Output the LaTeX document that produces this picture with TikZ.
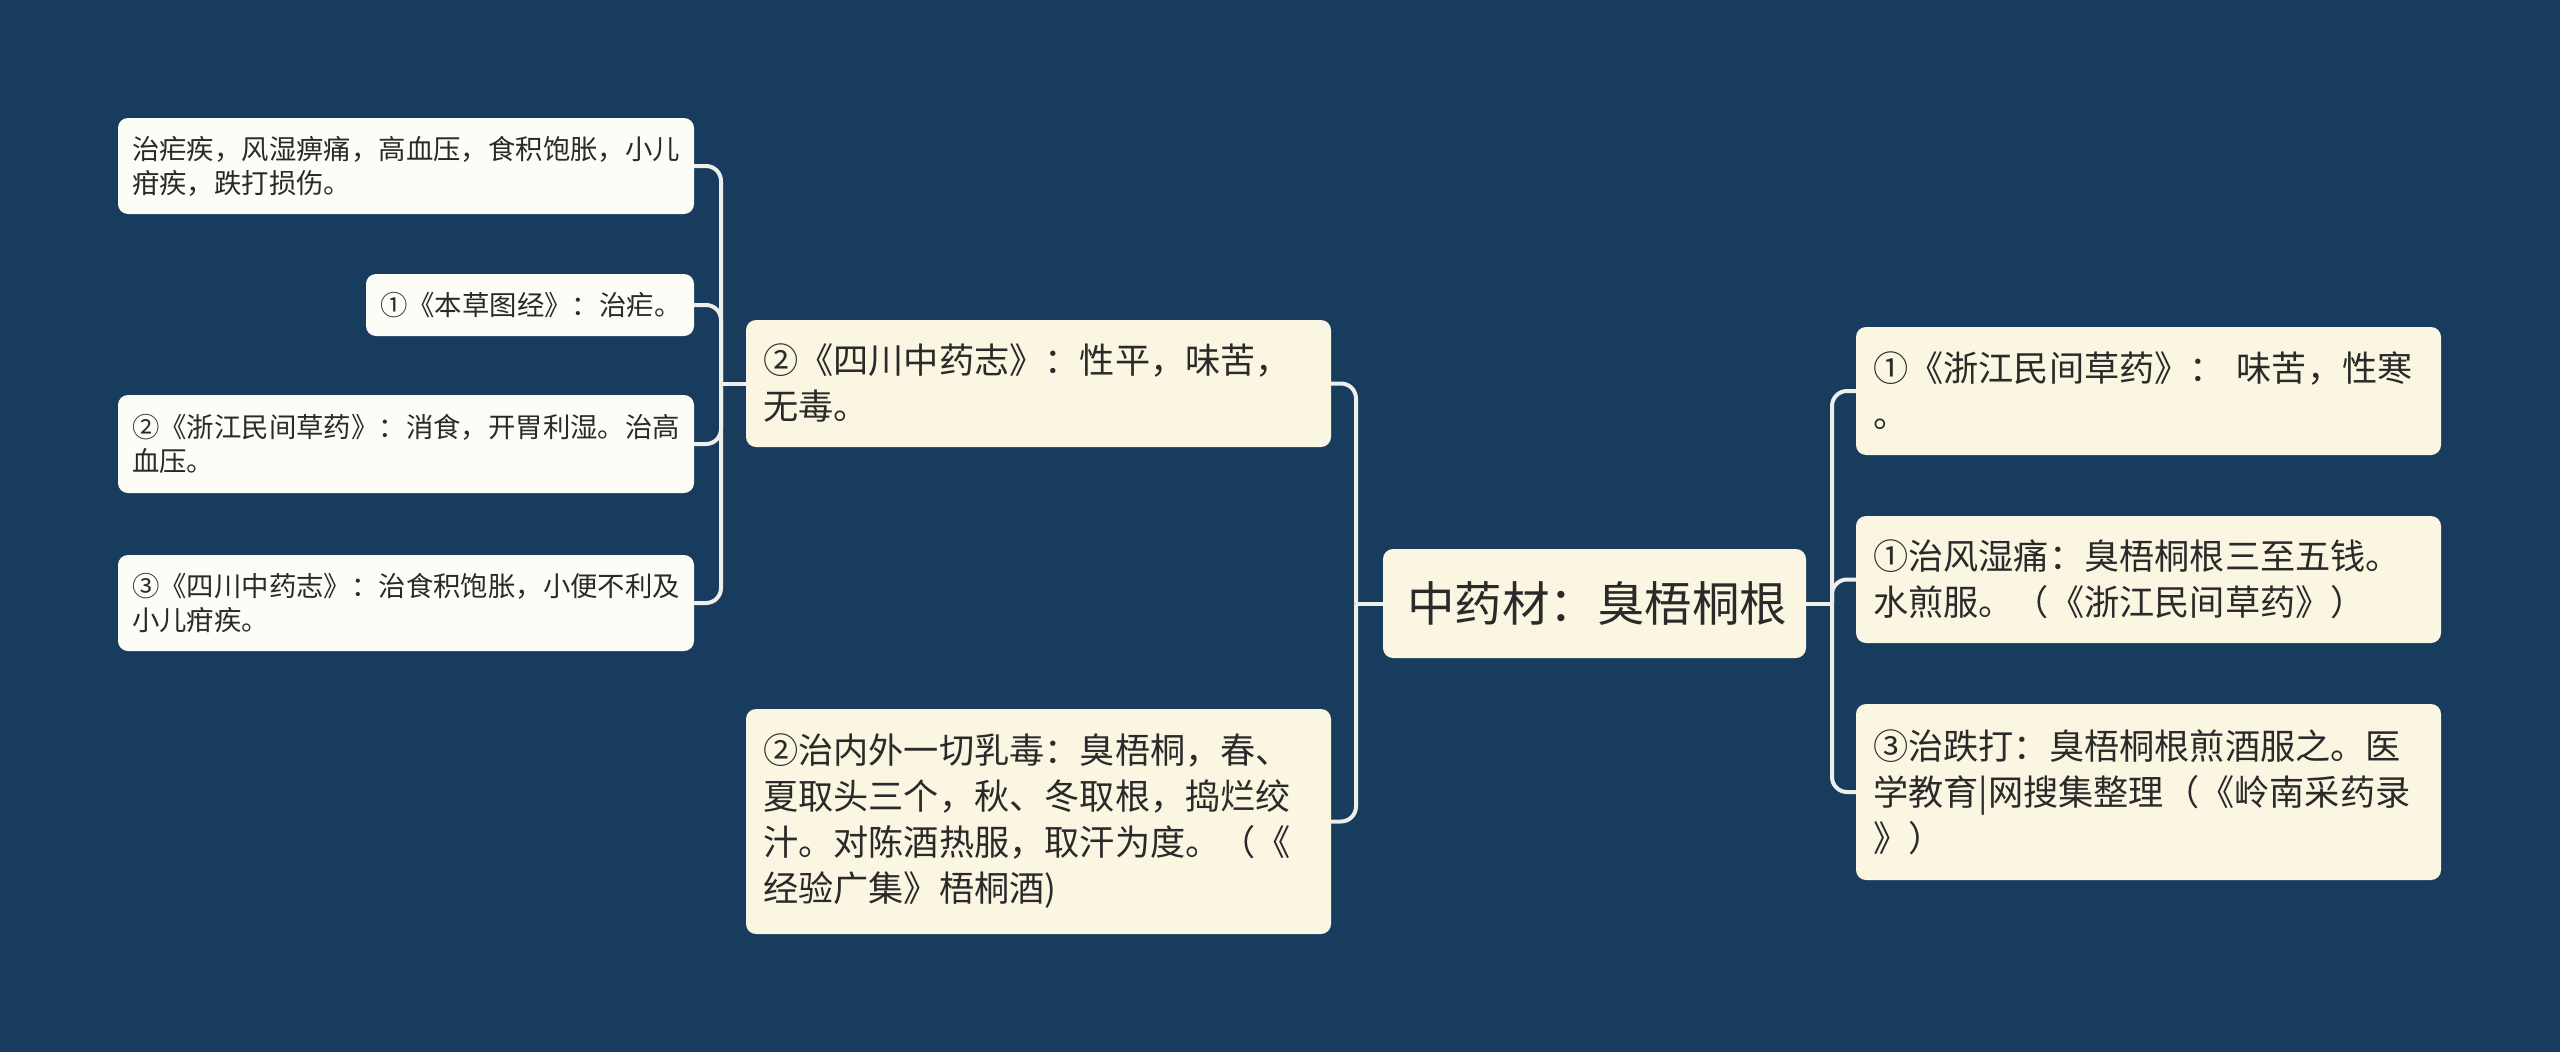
\documentclass[tikz,border=0pt]{standalone}
\usepackage{fontspec}
\setmainfont{Noto Sans CJK SC}
\definecolor{bg}{HTML}{183C5D}
\definecolor{cream}{HTML}{FBF6E2}
\definecolor{leaf}{HTML}{FDFDF8}
\definecolor{lnc}{HTML}{EEEEEA}
\definecolor{txt}{HTML}{2A2A2A}
\begin{document}
\begin{tikzpicture}[x=1pt,y=-1pt,
  box/.style={rounded corners=10pt, inner xsep=17pt, inner ysep=0pt, align=left, text=txt},
  creambox/.style={box, fill=cream, font=\fontsize{35.2}{46}\selectfont},
  leafbox/.style={box, fill=leaf, inner xsep=14pt, font=\fontsize{27.4}{34}\selectfont},
  conn/.style={draw=lnc, line width=4pt},
  elbow/.style={conn, rounded corners=15pt},
]
\fill[bg] (0,0) rectangle (2560,1052);
\useasboundingbox (0,0) rectangle (2560,1052);

% root
\node[box, fill=cream, inner xsep=24pt, text width=375pt, minimum height=109pt,
      font=\fontsize{47.5}{56}\selectfont] (root) at (1594.5,603.5) {中药材：臭梧桐根};

% middle left
\node[creambox, text width=551pt, minimum height=127pt] (mA) at (1038.5,383.5)
  {②《四川中药志》：性平，味苦，\\无毒。};
\node[creambox, text width=551pt, minimum height=225pt] (mB) at (1038.5,821.5)
  {②治内外一切乳毒：臭梧桐，春、\\夏取头三个，秋、冬取根，捣烂绞\\汁。对陈酒热服，取汗为度。（《\\经验广集》梧桐酒)};

% right
\node[creambox, text width=551pt, minimum height=128pt] (r1) at (2148.5,391)
  {①《浙江民间草药》： 味苦，性寒\\。};
\node[creambox, text width=551pt, minimum height=127pt] (r2) at (2148.5,579.5)
  {①治风湿痛：臭梧桐根三至五钱。\\水煎服。（《浙江民间草药》）};
\node[creambox, text width=551pt, minimum height=176pt] (r3) at (2148.5,792)
  {③治跌打：臭梧桐根煎酒服之。医\\学教育|网搜集整理（《岭南采药录\\》）};

% left leaves
\node[leafbox, text width=548pt, minimum height=96pt] (l1) at (406,166)
  {治疟疾，风湿痹痛，高血压，食积饱胀，小儿\\疳疾，跌打损伤。};
\node[leafbox, text width=300pt, minimum height=62pt] (l2) at (530,305)
  {①《本草图经》：治疟。};
\node[leafbox, text width=548pt, minimum height=98pt] (l3) at (406,444)
  {②《浙江民间草药》：消食，开胃利湿。治高\\血压。};
\node[leafbox, text width=548pt, minimum height=96pt] (l4) at (406,603)
  {③《四川中药志》：治食积饱胀，小便不利及\\小儿疳疾。};

% trunks
\coordinate (tR) at (1832,0);
\coordinate (tL) at (1356,0);
\coordinate (tLL) at (721,0);
\coordinate (jR) at (root.east -| tR);
\coordinate (jL) at (root.west -| tL);
\coordinate (jA) at (mA.west -| tLL);

\draw[conn] (root.east) -- (jR);
\draw[elbow] (jR) |- (r1.west);
\draw[elbow] (jR) |- (r2.west);
\draw[elbow] (jR) |- (r3.west);

\draw[conn] (root.west) -- (jL);
\draw[elbow] (jL) |- (mA.east);
\draw[elbow] (jL) |- (mB.east);

\draw[conn] (mA.west) -- (jA);
\draw[elbow] (jA) |- (l1.east);
\draw[elbow] (jA) |- (l2.east);
\draw[elbow] (jA) |- (l3.east);
\draw[elbow] (jA) |- (l4.east);
\end{tikzpicture}
\end{document}
